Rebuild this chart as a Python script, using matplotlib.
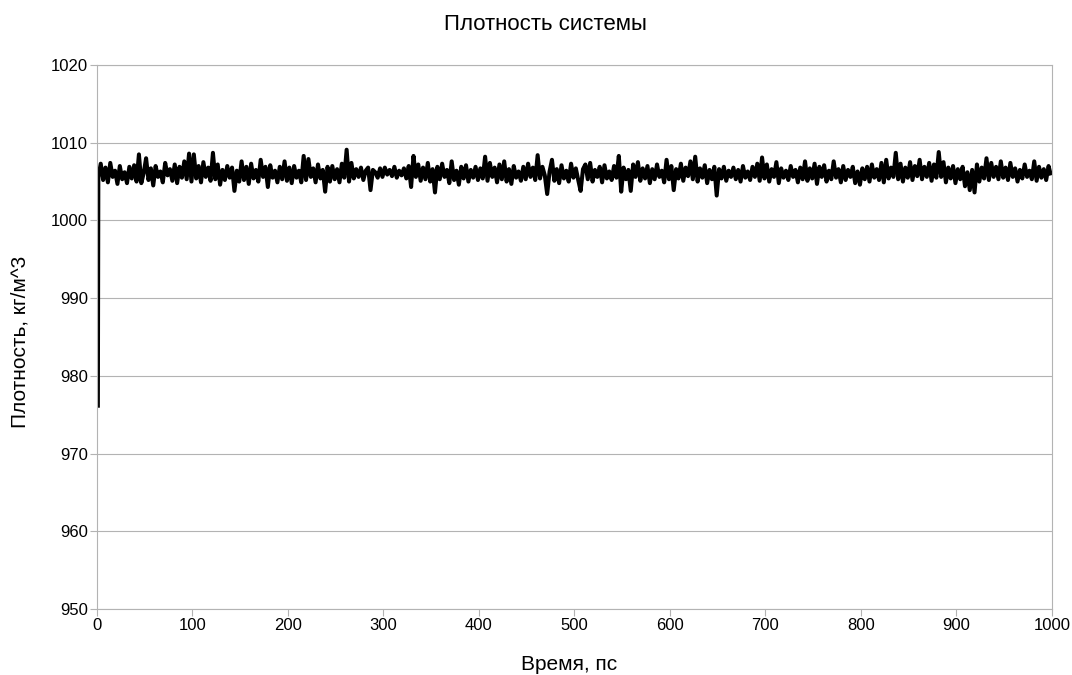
import numpy as np
import matplotlib
matplotlib.use("Agg")
import matplotlib.pyplot as plt

plt.rcParams['font.family'] = ['Liberation Sans', 'DejaVu Sans']

title = "Плотность системы"
xlabel = "Время, пс"
ylabel = "Плотность, кг/м^3"
xticks = [0, 100, 200, 300, 400, 500, 600, 700, 800, 900, 1000]
yticks = [950, 960, 970, 980, 990, 1000, 1010, 1020]

start_time = 0.9  # ps
first_step = 0.5  # ps
time_step = 2.5   # ps
density = [
    975.9, 1005.6, 1007.3, 1005.2, 1006.8, 1004.9, 1007.4, 1005.6, 1006.4, 1004.7, 1007.0, 1005.3, 1006.2, 1004.8, 1006.9, 1005.4, 1007.1, 1005.0, 1008.5, 1004.8,
    1006.1, 1008.0, 1005.2, 1006.7, 1004.5, 1007.0, 1005.6, 1006.3, 1004.9, 1007.4, 1005.8, 1006.6, 1005.1, 1007.2, 1004.8, 1006.9, 1005.5, 1007.6, 1005.3, 1008.6,
    1005.0, 1008.5, 1005.4, 1007.0, 1004.9, 1007.5, 1005.6, 1006.8, 1005.1, 1008.7, 1005.3, 1007.2, 1004.6, 1006.5, 1005.2, 1007.0, 1005.5, 1006.8, 1003.8, 1006.4,
    1005.0, 1007.6, 1005.2, 1006.9, 1004.7, 1007.3, 1005.4, 1006.5, 1005.0, 1007.8, 1005.6, 1006.9, 1004.3, 1007.1, 1005.5, 1006.4, 1004.9, 1006.9, 1005.3, 1007.6,
    1005.1, 1006.8, 1004.8, 1007.0, 1005.5, 1006.4, 1004.9, 1008.3, 1005.2, 1007.9, 1005.6, 1006.7, 1004.9, 1007.2, 1005.4, 1006.5, 1003.7, 1006.9, 1005.0, 1007.0,
    1005.3, 1006.6, 1004.9, 1007.3, 1005.5, 1009.1, 1005.0, 1007.4, 1005.4, 1006.6, 1005.6, 1006.8, 1005.2, 1006.4, 1006.8, 1003.9, 1006.5, 1006.2, 1005.5, 1006.7,
    1005.6, 1006.8, 1005.9, 1006.5, 1005.7, 1006.9, 1005.5, 1006.4, 1005.8, 1006.7, 1005.4, 1007.0, 1004.3, 1008.3, 1005.6, 1007.2, 1005.1, 1006.8, 1005.3, 1007.4,
    1005.0, 1006.6, 1003.6, 1006.9, 1005.3, 1007.3, 1005.6, 1006.5, 1004.8, 1007.6, 1005.2, 1006.4, 1004.6, 1006.9, 1005.4, 1007.1, 1005.0, 1006.5, 1005.5, 1006.9,
    1005.2, 1006.7, 1005.4, 1008.2, 1005.1, 1007.4, 1005.6, 1006.8, 1004.9, 1007.2, 1005.3, 1007.6, 1005.0, 1006.6, 1004.7, 1007.0, 1005.5, 1006.3, 1005.1, 1006.9,
    1005.3, 1007.3, 1005.6, 1006.8, 1005.2, 1008.4, 1005.4, 1006.9, 1005.8, 1003.4, 1006.3, 1007.8, 1005.1, 1006.6, 1004.8, 1007.1, 1005.4, 1006.4, 1005.0, 1007.3,
    1005.5, 1006.7, 1005.2, 1003.8, 1006.6, 1007.2, 1005.3, 1007.4, 1005.0, 1006.5, 1005.6, 1006.9, 1004.9, 1007.1, 1005.4, 1006.3, 1005.2, 1007.0, 1005.5, 1008.3,
    1003.7, 1006.8, 1005.3, 1006.5, 1003.8, 1007.2, 1005.6, 1007.5, 1005.1, 1006.7, 1005.4, 1007.0, 1004.8, 1006.6, 1005.3, 1007.2, 1005.6, 1006.4, 1004.9, 1007.8,
    1005.3, 1007.0, 1003.9, 1006.6, 1005.4, 1007.3, 1005.1, 1006.8, 1005.7, 1007.6, 1005.3, 1008.2, 1005.0, 1006.7, 1005.5, 1007.1, 1004.8, 1006.5, 1005.3, 1006.9,
    1003.2, 1006.6, 1005.4, 1006.9, 1005.1, 1006.4, 1005.6, 1006.8, 1005.3, 1006.5, 1005.0, 1007.0, 1005.5, 1006.3, 1005.2, 1006.9, 1005.6, 1007.3, 1005.1, 1008.1,
    1005.4, 1007.2, 1005.0, 1006.6, 1005.6, 1007.5, 1004.8, 1006.7, 1005.5, 1006.4, 1005.2, 1007.0, 1005.6, 1006.5, 1004.9, 1006.8, 1005.3, 1007.6, 1005.1, 1006.7,
    1005.4, 1007.3, 1004.7, 1006.9, 1005.6, 1007.1, 1005.0, 1006.4, 1005.3, 1007.6, 1005.5, 1006.6, 1004.9, 1007.0, 1005.2, 1006.5, 1005.6, 1006.9, 1004.8, 1006.3,
    1004.6, 1006.7, 1005.3, 1006.9, 1005.0, 1007.2, 1005.5, 1006.6, 1005.2, 1007.4, 1004.9, 1007.8, 1005.4, 1006.8, 1005.6, 1008.7, 1005.3, 1007.3, 1005.0, 1006.8,
    1005.5, 1007.5, 1005.2, 1007.0, 1005.7, 1007.8, 1005.3, 1006.9, 1005.6, 1007.4, 1005.1, 1007.2, 1005.5, 1008.8, 1005.6, 1007.5, 1004.9, 1006.8, 1005.4, 1007.0,
    1004.8, 1006.6, 1005.3, 1006.9, 1004.4, 1006.2, 1003.9, 1006.5, 1003.6, 1007.2, 1005.0, 1006.8, 1005.4, 1008.0, 1005.2, 1007.4, 1005.6, 1006.9, 1005.3, 1007.6,
    1005.5, 1006.8, 1005.2, 1007.4, 1005.6, 1006.7, 1005.0, 1006.5, 1005.4, 1007.2, 1005.6, 1006.4, 1005.3, 1007.6, 1005.1, 1006.9, 1005.5, 1006.6, 1005.2, 1007.0,
    1005.8,
]
time = np.concatenate([[start_time],
                       start_time + first_step + np.arange(len(density) - 1) * time_step])

fig = plt.figure(figsize=(10.72, 6.75), dpi=100)
ax = fig.add_axes([97/1072, 1 - 609/675, (1052-97)/1072, (609-65)/675])

ax.plot(time, density, color='black', linewidth=2.9, solid_joinstyle='round',
        solid_capstyle='butt')

ax.set_xlim(0, 1000)
ax.set_ylim(950, 1020)
ax.set_xticks(xticks)
ax.set_yticks(yticks)
ax.grid(axis='y', color='#b3b3b3', linewidth=0.8)
ax.set_axisbelow(True)
for s in ax.spines.values():
    s.set_color('#b3b3b3')
    s.set_linewidth(0.8)
ax.tick_params(axis='both', direction='out', length=5, width=0.8, color='#b3b3b3',
               labelsize=12, labelcolor='black', pad=1.5)

fig.text(545/1072, 1 - 25/675, title, ha='center', va='center', fontsize=16)
fig.text(569/1072, 1 - 664/675, xlabel, ha='center', va='center', fontsize=15)
fig.text(20/1072, 1 - 342/675, ylabel, ha='center', va='center', rotation=90, fontsize=15)

fig.savefig('out.png', dpi=100)
